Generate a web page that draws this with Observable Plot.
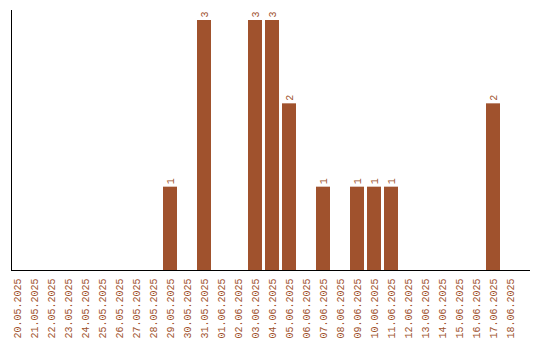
<!DOCTYPE html>
<html>
<head>
<meta charset="utf-8">
<script src="https://cdn.jsdelivr.net/npm/d3@7"></script>
<script src="https://cdn.jsdelivr.net/npm/@observablehq/plot@0.6"></script>
<style>
  html, body { margin: 0; padding: 0; background: #fff; }
  #chart svg { display: block; }
</style>
</head>
<body>
<div id="chart"></div>
<script>
const dates = [
  "20.05.2025","21.05.2025","22.05.2025","23.05.2025","24.05.2025","25.05.2025",
  "26.05.2025","27.05.2025","28.05.2025","29.05.2025","30.05.2025","31.05.2025",
  "01.06.2025","02.06.2025","03.06.2025","04.06.2025","05.06.2025","06.06.2025",
  "07.06.2025","08.06.2025","09.06.2025","10.06.2025","11.06.2025","12.06.2025",
  "13.06.2025","14.06.2025","15.06.2025","16.06.2025","17.06.2025","18.06.2025"
];
const counts = [0,0,0,0,0,0,0,0,0,1,0,3,0,0,3,3,2,0,1,0,1,1,1,0,0,0,0,0,2,0];

const data = dates.map((d, i) => ({date: d, count: counts[i]}));
const nonZero = data.filter(d => d.count > 0);
const color = "#a0522d";

const chart = Plot.plot({
  width: 540,
  height: 340,
  marginLeft: 11,
  marginRight: 10,
  marginTop: 10,
  marginBottom: 70,
  style: {fontFamily: "'Liberation Mono', monospace", fontSize: "10px", background: "#fff"},
  x: {type: "band", domain: dates, range: [10, 517], paddingInner: 3/17, paddingOuter: 0, label: null},
  y: {domain: [0, 3.12], axis: null},
  marks: [
    Plot.barY(data, {x: "date", y: "count", fill: color}),
    Plot.text(nonZero, {x: "date", y: "count", text: d => String(d.count), rotate: -90,
      textAnchor: "start", lineAnchor: "middle", dy: -3, fill: color}),
    Plot.axisX({tickSize: 0, tickPadding: 8, tickRotate: -90, fill: color, label: null}),
    Plot.ruleY([0], {stroke: "#000"}),
    Plot.frame({anchor: "left", stroke: "#000"})
  ]
});
document.getElementById("chart").append(chart);
</script>
</body>
</html>
